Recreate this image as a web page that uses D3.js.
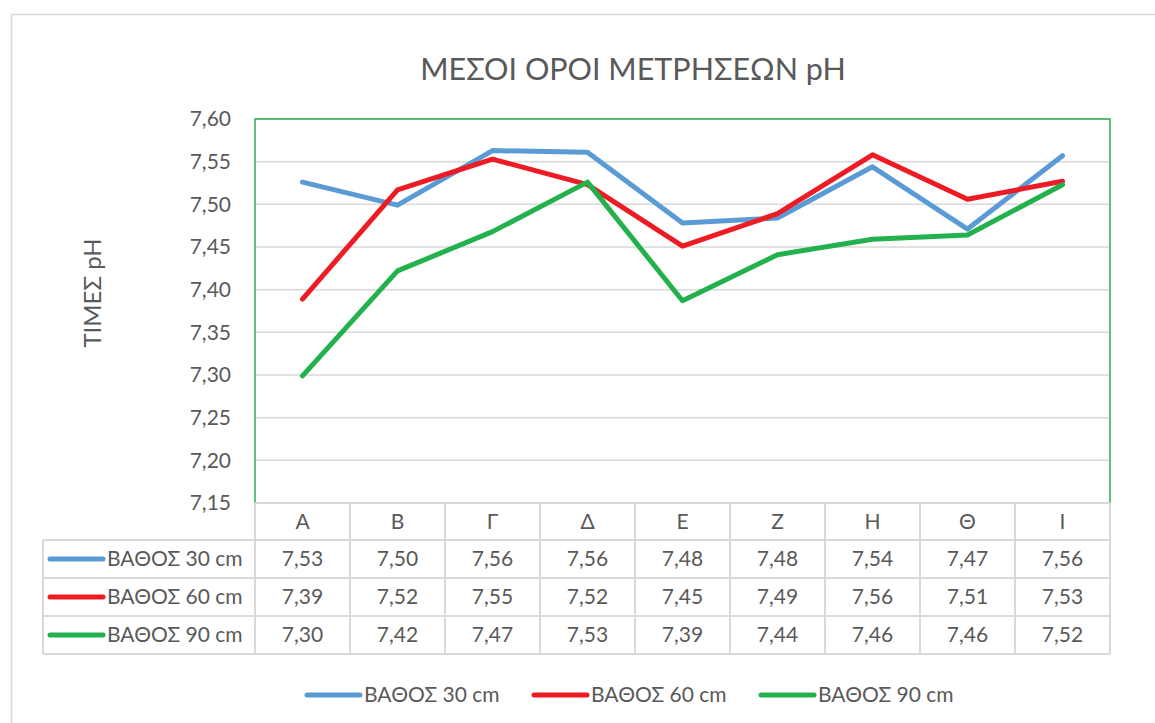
<!DOCTYPE html>
<html>
<head>
<meta charset="utf-8">
<script src="https://cdn.jsdelivr.net/npm/d3@7"></script>
<style>
  body { margin: 0; background: #fff; }
  svg text { font-family: Lato, "Open Sans", sans-serif; fill: #595959; }
</style>
</head>
<body>
<svg id="chart" width="1155" height="723"></svg>
<script>
// Data
const categories = ["Α", "Β", "Γ", "Δ", "Ε", "Ζ", "Η", "Θ", "Ι"];
const seriesNames = ["ΒΑΘΟΣ 30 cm", "ΒΑΘΟΣ 60 cm", "ΒΑΘΟΣ 90 cm"];
const depth30 = [7.526, 7.499, 7.563, 7.561, 7.478, 7.484, 7.544, 7.471, 7.557];
const depth60 = [7.389, 7.517, 7.553, 7.523, 7.451, 7.489, 7.558, 7.506, 7.527];
const depth90 = [7.299, 7.422, 7.468, 7.526, 7.387, 7.441, 7.459, 7.464, 7.523];
const yTicks = [7.15, 7.2, 7.25, 7.3, 7.35, 7.4, 7.45, 7.5, 7.55, 7.6];
const colors = ["#5b9bd5", "#ed1c24", "#22b14c"];

const series = seriesNames.map((name, i) => ({
  name,
  values: [depth30, depth60, depth90][i],
  color: colors[i],
}));

const svg = d3.select("#chart");
const plot = { left: 255, right: 1110, top: 119, bottom: 503 };
const fmt = (v) => v.toFixed(2).replace(".", ",");

// outer chart border
svg.append("rect")
  .attr("x", 11.5).attr("y", 14.5)
  .attr("width", 1200).attr("height", 800)
  .attr("fill", "none").attr("stroke", "#d9d9d9").attr("stroke-width", 1.5);

const x = d3.scaleBand().domain(categories).range([plot.left, plot.right]);
const y = d3.scaleLinear().domain([7.15, 7.6]).range([plot.bottom, plot.top]);

// gridlines
svg.append("g")
  .selectAll("line")
  .data(yTicks.slice(1))
  .join("line")
  .attr("x1", plot.left).attr("x2", plot.right)
  .attr("y1", (d) => y(d)).attr("y2", (d) => y(d))
  .attr("stroke", "#d9d9d9").attr("stroke-width", 1.5);

// y axis labels
svg.append("g")
  .selectAll("text")
  .data(yTicks)
  .join("text")
  .attr("x", 231)
  .attr("y", (d) => y(d))
  .attr("dy", "0.35em")
  .attr("text-anchor", "end")
  .attr("font-size", "21px")
  .text(fmt);

// plot area border
svg.append("rect")
  .attr("x", plot.left).attr("y", plot.top)
  .attr("width", plot.right - plot.left).attr("height", plot.bottom - plot.top)
  .attr("fill", "none").attr("stroke", "#2db04d").attr("stroke-width", 1.5);

// data table
const rowH = [37, 38, 38, 38];
const rowY = [plot.bottom];
rowH.forEach((h, i) => rowY.push(rowY[i] + h));
const tableLeft = 43;
const grid = svg.append("g").attr("stroke", "#d9d9d9").attr("stroke-width", 2);

// horizontal table lines
rowY.forEach((yy, i) => {
  grid.append("line")
    .attr("x1", i === 0 ? plot.left : tableLeft).attr("x2", plot.right)
    .attr("y1", yy).attr("y2", yy);
});
// vertical lines
categories.forEach((c) => {
  grid.append("line")
    .attr("x1", x(c)).attr("x2", x(c))
    .attr("y1", rowY[0]).attr("y2", rowY[4]);
});
grid.append("line")
  .attr("x1", plot.right).attr("x2", plot.right)
  .attr("y1", rowY[0]).attr("y2", rowY[4]);
grid.append("line")
  .attr("x1", tableLeft).attr("x2", tableLeft)
  .attr("y1", rowY[1]).attr("y2", rowY[4]);

// category header
svg.append("g")
  .selectAll("text")
  .data(categories)
  .join("text")
  .attr("x", (d) => x(d) + x.bandwidth() / 2)
  .attr("y", (rowY[0] + rowY[1]) / 2)
  .attr("dy", "0.35em")
  .attr("text-anchor", "middle")
  .attr("font-size", "21px")
  .text((d) => d);

// rows with legend key and values
series.forEach((s, i) => {
  const cy = (rowY[i + 1] + rowY[i + 2]) / 2;
  svg.append("line")
    .attr("x1", 50).attr("x2", 103)
    .attr("y1", cy).attr("y2", cy)
    .attr("stroke", s.color).attr("stroke-width", 5).attr("stroke-linecap", "round");
  svg.append("text")
    .attr("x", 107).attr("y", cy).attr("dy", "0.35em")
    .attr("font-size", "21px")
    .text(s.name);
  svg.append("g")
    .selectAll("text")
    .data(s.values)
    .join("text")
    .attr("x", (d, j) => x(categories[j]) + x.bandwidth() / 2)
    .attr("y", cy).attr("dy", "0.35em")
    .attr("text-anchor", "middle")
    .attr("font-size", "21px")
    .text(fmt);
});

// lines
const line = d3.line()
  .x((d, j) => x(categories[j]) + x.bandwidth() / 2)
  .y((d) => y(d));

svg.append("g")
  .selectAll("path")
  .data(series)
  .join("path")
  .attr("d", (d) => line(d.values))
  .attr("fill", "none")
  .attr("stroke", (d) => d.color)
  .attr("stroke-width", 5)
  .attr("stroke-linecap", "round")
  .attr("stroke-linejoin", "round");

// title
svg.append("text")
  .attr("x", 633).attr("y", 80)
  .attr("text-anchor", "middle")
  .attr("font-size", "30.5px")
  .text("ΜΕΣΟΙ ΟΡΟΙ ΜΕΤΡΗΣΕΩΝ pH");

// y axis title
svg.append("text")
  .attr("transform", "translate(101,293) rotate(-90)")
  .attr("text-anchor", "middle")
  .attr("font-size", "24px")
  .text("ΤΙΜΕΣ pH");

// bottom legend
const legendX = [305, 532, 759];
series.forEach((s, i) => {
  svg.append("line")
    .attr("x1", legendX[i] + 2).attr("x2", legendX[i] + 55)
    .attr("y1", 695).attr("y2", 695)
    .attr("stroke", s.color).attr("stroke-width", 5).attr("stroke-linecap", "round");
  svg.append("text")
    .attr("x", legendX[i] + 59).attr("y", 695).attr("dy", "0.35em")
    .attr("font-size", "21px")
    .text(s.name);
});
</script>
</body>
</html>
